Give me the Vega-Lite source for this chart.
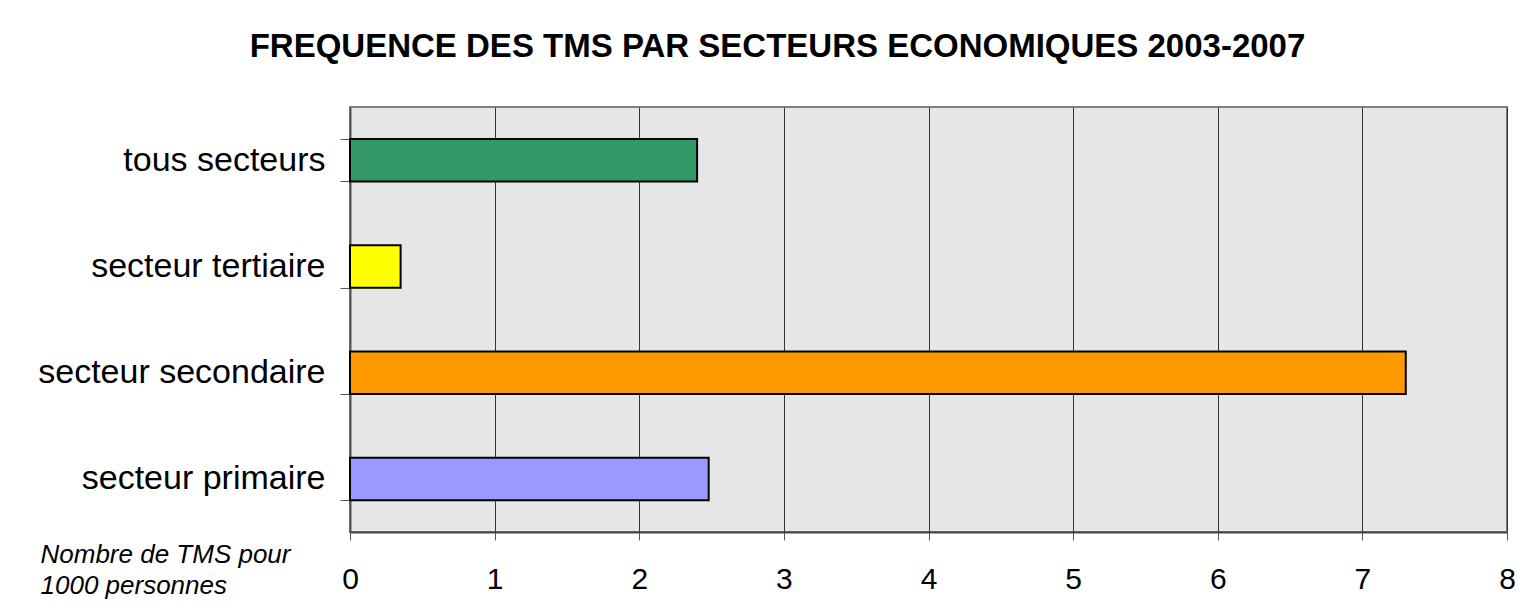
{
  "$schema": "https://vega.github.io/schema/vega-lite/v6.json",
  "autosize": "none",
  "width": 1157,
  "height": 425,
  "padding": {"left": 350, "top": 107, "right": 14, "bottom": 84},
  "background": "white",
  "title": {
    "text": "FREQUENCE DES TMS PAR SECTEURS ECONOMIQUES 2003-2007",
    "font": "Liberation Sans",
    "fontSize": 33,
    "fontWeight": "bold",
    "color": "black",
    "anchor": "middle",
    "frame": "group",
    "dx": -151,
    "dy": 48,
    "baseline": "alphabetic",
    "offset": 48
  },
  "data": {
    "values": [
      {"secteur": "tous secteurs", "valeur": 2.40},
      {"secteur": "secteur tertiaire", "valeur": 0.35},
      {"secteur": "secteur secondaire", "valeur": 7.30},
      {"secteur": "secteur primaire", "valeur": 2.48}
    ]
  },
  "mark": {"type": "bar", "stroke": "black", "strokeWidth": 2},
  "encoding": {
    "y": {
      "field": "secteur",
      "type": "nominal",
      "sort": ["tous secteurs", "secteur tertiaire", "secteur secondaire", "secteur primaire"],
      "scale": {"paddingInner": 0.6, "paddingOuter": 0.3},
      "axis": {
        "title": null,
        "tickBand": "extent",
        "ticks": true,
        "tickSize": 10,
        "tickColor": "#555555",
        "tickWidth": 1,
        "domainColor": "#555555",
        "domainWidth": 2,
        "labelFont": "Liberation Sans",
        "labelFontSize": 34,
        "labelColor": "black",
        "labelPadding": 15,
        "labelLimit": 0,
        "grid": false
      }
    },
    "x": {
      "field": "valeur",
      "type": "quantitative",
      "scale": {"domain": [0, 8], "nice": false},
      "axis": {
        "values": [0, 1, 2, 3, 4, 5, 6, 7, 8],
        "grid": true,
        "gridColor": "#333333",
        "gridWidth": 1,
        "gridOpacity": 1,
        "tickSize": 8,
        "tickColor": "#555555",
        "domainColor": "#444444",
        "domainWidth": 2,
        "labelFont": "Liberation Sans",
        "labelFontSize": 30,
        "labelColor": "black",
        "labelPadding": 24,
        "labelFlush": false,
        "title": ["Nombre de TMS pour", "1000 personnes"],
        "titleFont": "Liberation Sans",
        "titleFontSize": 26,
        "titleFontStyle": "italic",
        "titleFontWeight": "normal",
        "titleColor": "black",
        "titleAlign": "left",
        "titleAnchor": "start",
        "titleBaseline": "alphabetic",
        "titleX": -310,
        "titleY": 30,
        "titleLineHeight": 31,
        "titleAngle": 0
      }
    },
    "color": {
      "field": "secteur",
      "type": "nominal",
      "scale": {
        "domain": ["tous secteurs", "secteur tertiaire", "secteur secondaire", "secteur primaire"],
        "range": ["#339966", "#FFFF00", "#FF9900", "#9999FF"]
      },
      "legend": null
    }
  },
  "config": {
    "view": {"fill": "#e6e6e6", "stroke": "#808080", "strokeWidth": 2}
  }
}
